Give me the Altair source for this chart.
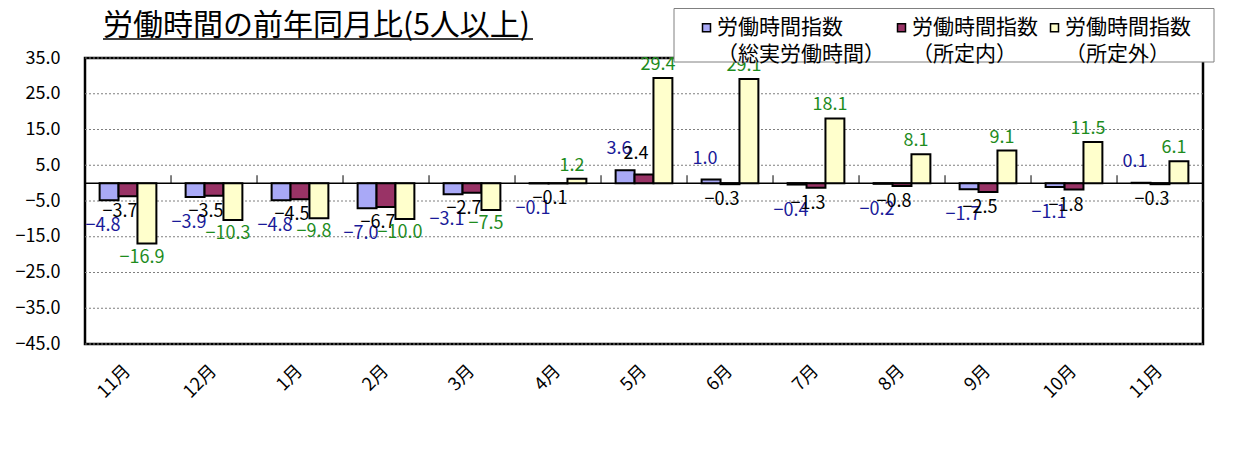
import json
import altair as alt
import pandas as pd

# ---------------- data ----------------
months = ["11月", "12月", "1月", "2月", "3月", "4月", "5月", "6月", "7月", "8月", "9月", "10月", "11月"]
series_names = ["総実労働時間", "所定内", "所定外"]
total_hours = [-4.8, -3.9, -4.8, -7.0, -3.1, -0.1, 3.6, 1.0, -0.4, -0.2, -1.7, -1.1, 0.1]
scheduled_hours = [-3.7, -3.5, -4.5, -6.7, -2.7, -0.1, 2.4, -0.3, -1.3, -0.8, -2.5, -1.8, -0.3]
overtime_hours = [-16.9, -10.3, -9.8, -10.0, -7.5, 1.2, 29.4, 29.1, 18.1, 8.1, 9.1, 11.5, 6.1]
y_ticks = [35.0, 25.0, 15.0, 5.0, -5.0, -15.0, -25.0, -35.0, -45.0]
title_text = "労働時間の前年同月比(5人以上)"
legend_line1 = "労働時間指数"

FONT = "Noto Sans CJK JP"
bar_colors = ["#a9a9f7", "#993366", "#ffffcc"]

keys = [f"p{i:02d}" for i in range(len(months))]
rows = []
for s, vals in zip(series_names, [total_hours, scheduled_hours, overtime_hours]):
    for k, m, v in zip(keys, months, vals):
        rows.append({"key": k, "month": m, "series": s, "value": v})
df = pd.DataFrame(rows)

month_label_expr = json.dumps(months, ensure_ascii=False) + "[toNumber(slice(datum.value, 1))]"

x_axis = alt.Axis(
    title=None, labelExpr=month_label_expr, labelAngle=-45, labelAlign="right",
    labelBaseline="middle", labelFontSize=18, labelFont=FONT, labelColor="black",
    labelPadding=24, domain=False, ticks=False, tickSize=0, grid=False, labelOverlap=False,
    labelLineHeight=18,
)
x_scale = alt.Scale(domain=keys, paddingInner=0.34, paddingOuter=0.17)
y_axis = alt.Axis(
    title=None, values=y_ticks, tickCount=len(y_ticks) + 2, format=".1f", domain=False,
    ticks=False, tickSize=0, labelPadding=25, labelFontSize=18, labelFont=FONT,
    labelColor="black", grid=False, labelOverlap=False, labelSeparation=0, labelLineHeight=18,
)
y_scale = alt.Scale(domain=[-45, 35], nice=False, zero=False)
xoff_enc = alt.XOffset(
    "series:N", sort=series_names,
    scale=alt.Scale(domain=series_names, paddingInner=0, paddingOuter=0),
)

base = alt.Chart(df)

bars = base.mark_bar(stroke="black", strokeWidth=2).encode(
    x=alt.X("key:N", sort=keys, scale=x_scale, axis=x_axis),
    xOffset=xoff_enc,
    y=alt.Y("value:Q", scale=y_scale, axis=y_axis),
    y2=alt.datum(0),
    color=alt.Color(
        "series:N",
        title=None,
        scale=alt.Scale(domain=series_names, range=bar_colors),
        legend=alt.Legend(
            orient="none", legendX=611, legendY=-41, direction="horizontal", columns=3,
            columnPadding=6, padding=0,
            labelExpr="['" + legend_line1 + "', '（' + datum.label + '）']",
            labelFontSize=21, labelFont=FONT, labelColor="black", labelOffset=0, labelLimit=400,
            symbolType="square", symbolSize=64, symbolStrokeColor="black",
            symbolStrokeWidth=1.5,
        ),
    ),
)

grid = alt.Chart(pd.DataFrame({"t": y_ticks})).mark_rule(
    color="#7f7f7f", strokeWidth=1, strokeDash=[2, 2]
).encode(y=alt.Y("t:Q", scale=y_scale, axis=y_axis))

zero_line = alt.Chart(pd.DataFrame({"v": [0]})).mark_rule(
    color="black", strokeWidth=1.5
).encode(y=alt.datum(0))

cat_ticks = alt.Chart(pd.DataFrame({"key": keys[1:]})).mark_rule(
    color="black", strokeWidth=1, xOffset=-14.6
).encode(
    x=alt.X("key:N", bandPosition=0, sort=keys, scale=x_scale, axis=x_axis),
    y=alt.datum(0),
    y2=alt.datum(2.2),
)

label_styles = {
    "総実労働時間": dict(color="#1a1a99", dx=-6, pos_dy=-21, neg_dy=26),
    "所定内": dict(color="#000000", dx=-8, pos_dy=-21, neg_dy=16),
    "所定外": dict(color="#1e8c1e", dx=-5, pos_dy=-13, neg_dy=14),
}
text_layers = []
for s in series_names:
    st = label_styles[s]
    for positive in (True, False):
        cond = (alt.datum.series == s) & ((alt.datum.value >= 0) if positive else (alt.datum.value < 0))
        text_layers.append(
            base.transform_filter(cond).mark_text(
                fontSize=18, font=FONT, color=st["color"], baseline="middle",
                dx=st["dx"], dy=st["pos_dy"] if positive else st["neg_dy"],
            ).encode(
                x=alt.X("key:N", sort=keys, scale=x_scale, axis=x_axis),
                xOffset=xoff_enc,
                y=alt.Y("value:Q", scale=y_scale, axis=y_axis),
                text=alt.Text("value:Q", format=".1f"),
            )
        )

one = pd.DataFrame({"a": [0]})
title_mark = alt.Chart(one).mark_text(
    align="left", baseline="middle", fontSize=30, font=FONT, color="black"
).encode(x=alt.value(18), y=alt.value(-32), text=alt.value(title_text))
underline = alt.Chart(one).mark_rule(color="black", strokeWidth=1.5).encode(
    x=alt.value(18), x2=alt.value(448), y=alt.value(-19)
)
legend_box = alt.Chart(one).mark_rect(fill="white", stroke="#808080", strokeWidth=1).encode(
    x=alt.value(589), x2=alt.value(1129), y=alt.value(-49.5), y2=alt.value(4)
)

chart = alt.layer(
    grid, zero_line, bars, cat_ticks, *text_layers, title_mark, underline, legend_box
).properties(
    width=1118,
    height=286,
    autosize=alt.AutoSizeParams(type="none"),
    padding={"left": 77, "top": 50, "right": 44, "bottom": 105},
).configure(
    font=FONT, background="white",
    style={"guide-label": {"lineHeight": 27}},
).configure_view(
    stroke="black", strokeWidth=2.5
)

chart.save("out.html", embed_options={"renderer": "svg", "actions": False})
